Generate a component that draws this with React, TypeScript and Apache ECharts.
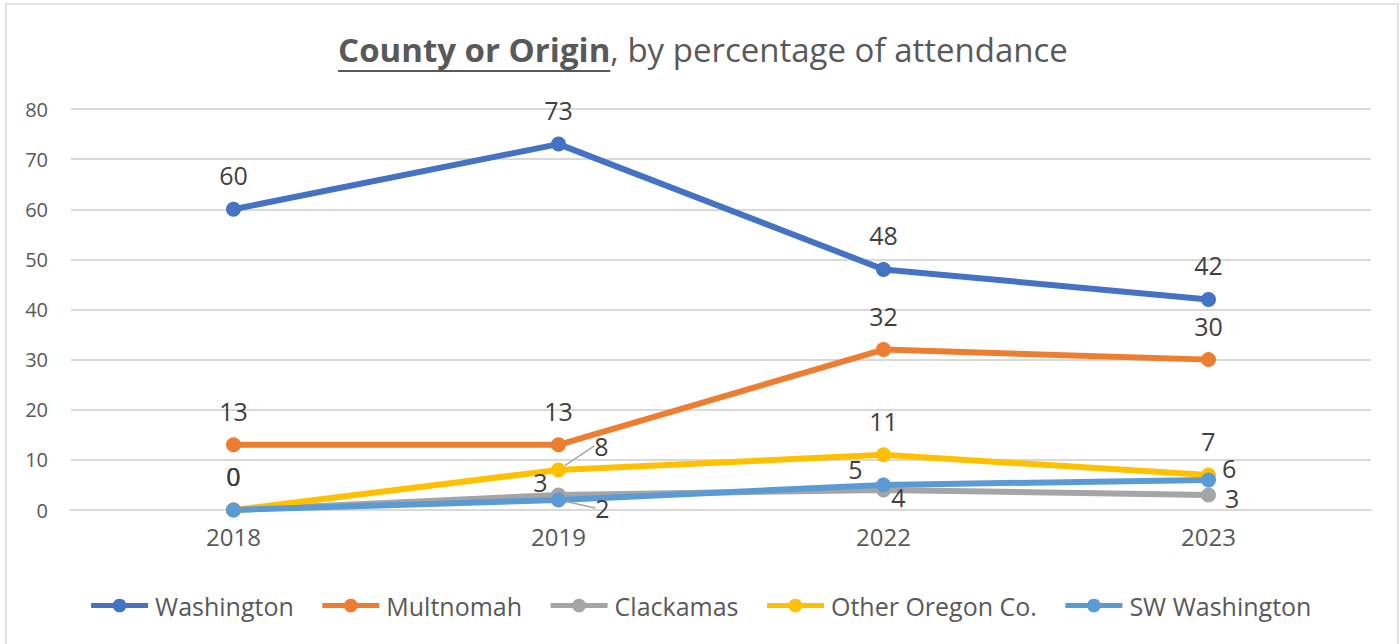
import React, { useEffect, useRef } from "react";
import * as echarts from "echarts";

const categories = ["2018", "2019", "2022", "2023"];
const seriesNames = ["Washington", "Multnomah", "Clackamas", "Other Oregon Co.", "SW Washington"];
const washington = [60, 73, 48, 42];
const multnomah = [13, 13, 32, 30];
const clackamas = [0, 3, 4, 3];
const otherOregon = [0, 8, 11, 7];
const swWashington = [0, 2, 5, 6];
const yTicks = { min: 0, max: 80, interval: 10 };

const colors = ["#4472C4", "#ED7D31", "#A5A5A5", "#FFC000", "#5B9BD5"];
const FONT = "'Open Sans', 'Noto Sans', sans-serif";
const TITLE_BOLD = "County or Origin";
const TITLE_REST = ", by percentage of attendance";
const TITLE_SIZE = 33;

// label placement tweaks: "seriesIndex-dataIndex" -> position + shift
const labelTweaks: Record<string, { position?: string; dx: number; dy: number; line?: boolean; tight?: boolean }> = {
  "2-1": { dx: -18, dy: 21 },
  "3-1": { dx: 43, dy: 10, line: true },
  "4-1": { dx: 44, dy: 42, line: true },
  "4-2": { dx: -28, dy: 18 },
  "2-2": { dx: 15, dy: 41 },
  "4-3": { position: "right", dx: -8, dy: -12, tight: true },
  "2-3": { position: "right", dx: -5, dy: 3, tight: true },
};

function measure(text: string, weight: string) {
  const c = document.createElement("canvas").getContext("2d")!;
  c.font = `${weight} ${TITLE_SIZE}px 'Open Sans'`;
  return c.measureText(text).width;
}

export default function App() {
  const ref = useRef<HTMLDivElement>(null);
  useEffect(() => {
    if (!ref.current) return;
    const chart = echarts.init(ref.current, null, { renderer: "svg" });
    const all = [washington, multnomah, clackamas, otherOregon, swWashington];
    const wBold = measure(TITLE_BOLD, "bold");
    const wRest = measure(TITLE_REST, "normal");
    const titleCenter = 703;
    const titleStart = titleCenter - (wBold + wRest) / 2;

    const series = all.map((vals, si) => ({
      name: seriesNames[si],
      type: "line",
      data: vals.map((v, di) => {
        const t = labelTweaks[`${si}-${di}`];
        const item: any = { value: v };
        if (t && t.position) item.label = { position: t.position, lineHeight: t.tight ? 20 : undefined };
        if (t && t.line) item.labelLine = { show: true };
        return item;
      }),
      symbol: "circle",
      symbolSize: 15,
      lineStyle: { width: 6, color: colors[si] },
      itemStyle: { color: colors[si] },
      label: {
        show: true,
        position: "top",
        distance: 14,
        fontSize: 25,
        color: "#404040",
        fontFamily: FONT,
      },
      labelLine: { show: false, lineStyle: { color: "#A6A6A6", width: 1.5 } },
      labelLayout: (p: any) => {
        const t = labelTweaks[`${si}-${p.dataIndex}`];
        return t ? { dx: t.dx, dy: t.dy } : { dx: 0, dy: 0 };
      },
    }));

    chart.setOption({
      animation: false,
      backgroundColor: "#ffffff",
      color: colors,
      textStyle: { fontFamily: FONT },
      title: {
        text: `{a|${TITLE_BOLD}}{b|${TITLE_REST}}`,
        left: titleStart,
        top: 33,
        padding: 0,
        textStyle: {
          rich: {
            a: { fontSize: TITLE_SIZE, fontWeight: "bold", color: "#595959", fontFamily: FONT },
            b: { fontSize: TITLE_SIZE, fontWeight: "normal", color: "#595959", fontFamily: FONT },
          },
        },
      },
      graphic: [
        {
          type: "rect",
          shape: { x: 6, y: 4, width: 1392, height: 660 },
          style: { fill: "none", stroke: "#D9D9D9", lineWidth: 1.5 },
          silent: true,
        },
        {
          type: "rect",
          shape: { x: titleStart, y: 70, width: wBold, height: 2 },
          style: { fill: "#595959" },
          silent: true,
        },
      ],
      legend: {
        bottom: 21,
        left: "center",
        itemWidth: 57,
        itemHeight: 17,
        itemGap: 26,
        lineStyle: { width: 5 },
        textStyle: { fontSize: 25, color: "#595959", fontFamily: FONT, padding: [0, 0, 0, 2] },
        data: seriesNames,
      },
      grid: { left: 71, right: 29, top: 109, bottom: 134 },
      xAxis: {
        type: "category",
        data: categories,
        boundaryGap: true,
        axisLine: { lineStyle: { color: "#D9D9D9", width: 2 } },
        axisTick: { show: false },
        axisLabel: { fontSize: 24, color: "#595959", margin: 14, fontFamily: FONT },
      },
      yAxis: {
        type: "value",
        min: yTicks.min,
        max: yTicks.max,
        interval: yTicks.interval,
        axisLine: { show: false },
        axisTick: { show: false },
        splitLine: { lineStyle: { color: "#D9D9D9", width: 2 } },
        axisLabel: { fontSize: 20, color: "#595959", margin: 23, fontFamily: FONT },
      },
      series,
    });
    return () => chart.dispose();
  }, []);
  return (
    <div
      ref={ref}
      style={{ position: "fixed", left: 0, top: 0, width: 1400, height: 644 }}
    />
  );
}
